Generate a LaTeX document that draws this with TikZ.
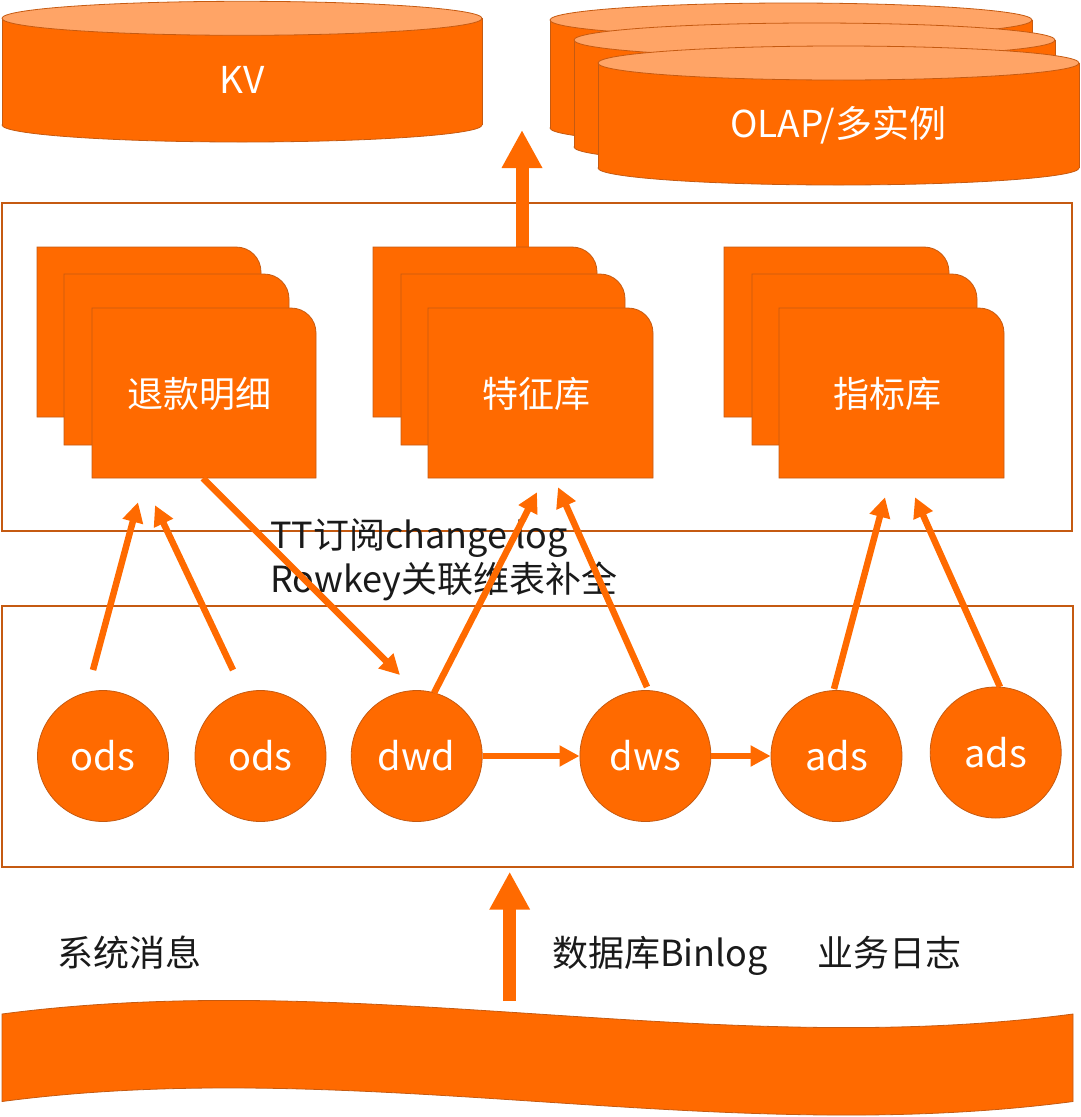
\documentclass[tikz,border=0pt]{standalone}
\usepackage{fontspec}
\setmainfont{Noto Sans CJK SC}
\usetikzlibrary{arrows.meta}
\definecolor{org}{HTML}{FF6A00}
\definecolor{dorg}{HTML}{C55A11}
\definecolor{lorg}{HTML}{FFA466}
\definecolor{ink}{HTML}{1A1A1A}
\newcommand{\mycyl}[4]{%
  \filldraw[fill=org, draw=dorg, line width=0.8pt] (#1,#4) ellipse [x radius=#2, y radius=17];
  \fill[org] (#1-#2,#3) rectangle (#1+#2,#4);
  \draw[dorg, line width=0.8pt] (#1-#2,#3) -- (#1-#2,#4) (#1+#2,#3) -- (#1+#2,#4);
  \filldraw[fill=lorg, draw=dorg, line width=0.8pt] (#1,#3) ellipse [x radius=#2, y radius=17];}
\newcommand{\mydoc}[4]{%
  \filldraw[docshape] (#1,#4) -- (#1,#2) -- (#3-25,#2) .. controls (#3-11,#2) and (#3,#2+11) .. (#3,#2+25) -- (#3,#4) -- cycle;}
\begin{document}
\begin{tikzpicture}[x=1pt,y=-1pt,
  frame/.style={draw=dorg, line width=2.5pt},
  docshape/.style={fill=org, draw=dorg, line width=0.8pt},
  doclabel/.style={text=white, font=\fontsize{36}{40}\selectfont, minimum width=224pt, minimum height=170pt, inner sep=0pt},
  cyllabel/.style={text=white, font=\fontsize{37}{40}\selectfont, inner sep=0pt},
  layer/.style={circle, fill=org, draw=dorg, line width=0.8pt, minimum size=131pt, inner sep=0pt, text=white, font=\fontsize{38}{40}\selectfont},
  flow/.style={draw=org, line width=6.5pt, -{Triangle[length=20pt,width=20pt]}},
  bigflow/.style={draw=org, line width=13pt, -{Triangle[length=38pt,width=38pt]}},
  note/.style={text=ink, font=\fontsize{36}{44}\selectfont, inner sep=0pt, anchor=base west}]
\useasboundingbox (0,0) rectangle (1080,1117);

% storage cylinders
\mycyl{242}{240}{18.3}{125}
\node[cyllabel] (kv) at (242,80) {KV};
\mycyl{791}{241}{20}{128}
\mycyl{814.5}{240.5}{40}{147}
\mycyl{838.5}{240.5}{63}{168}
\node[cyllabel] (olap) at (838,125) {OLAP/多实例};

% frames
\node[frame, minimum width=1070pt, minimum height=328pt, inner sep=0pt] (topbox) at (537,367) {};
\node[frame, minimum width=1071pt, minimum height=261pt, inner sep=0pt] (layerbox) at (537.5,736.5) {};

% up arrow to OLAP
\coordinate (olapin) at (522,130);
\draw[bigflow] (522,262) -- (olapin);

% document stacks
\mydoc{37}{247}{261}{417}
\mydoc{64}{274}{289}{445}
\mydoc{92}{308}{316}{478}
\node[doclabel] (fd1) at (204,393) {};
\node[text=white, font=\fontsize{36}{40}\selectfont, inner sep=0pt] (fd1t) at (199.5,394) {退款明细};
\mydoc{373}{247}{597}{417}
\mydoc{401}{274}{625}{445}
\mydoc{428}{308}{653}{478}
\node[doclabel] (fd2) at (540.5,393) {};
\node[text=white, font=\fontsize{36}{40}\selectfont, inner sep=0pt] (fd2t) at (536,394) {特征库};
\mydoc{724}{247}{949}{417}
\mydoc{752}{274}{977}{445}
\mydoc{779}{308}{1004}{478}
\node[doclabel] (fd3) at (891.5,393) {};
\node[text=white, font=\fontsize{36}{40}\selectfont, inner sep=0pt] (fd3t) at (887.5,394) {指标库};

% layer circles
\node[layer] (ods1) at (103,756) {ods};
\node[layer] (ods2) at (260.5,756) {ods};
\node[layer] (dwd) at (416.7,756) {dwd};
\node[layer] (dws) at (645.4,756) {dws};
\node[layer] (ads1) at (836.5,756) {ads};
\node[layer] (ads2) at (995.7,752.5) {ads};

% note text
\node[note] (note1) at (270,548) {TT订阅change log};
\node[note] (note2) at (270,592) {Rowkey关联维表补全};

% flows
\draw[flow] ([shift={(-10,-86)}]ods1.center) -- ([shift={(-66,24)}]fd1.south);
\draw[flow] ([shift={(-27.5,-86)}]ods2.center) -- ([shift={(-49,27)}]fd1.south);
\draw[flow] ([shift={(-1,0)}]fd1.south) -- ([shift={(-16.7,-81)}]dwd.center);
\draw[flow] ([shift={(17.3,-63)}]dwd.center) -- ([shift={(-3.5,14)}]fd2.south);
\draw[flow] ([shift={(1.6,-69)}]dws.center) -- ([shift={(17.5,9)}]fd2.south);
\draw[flow] ([shift={(-2.5,-67)}]ads1.center) -- ([shift={(-6.5,19)}]fd3.south);
\draw[flow] ([shift={(4.3,-65.5)}]ads2.center) -- ([shift={(23.5,19)}]fd3.south);
\draw[flow] (dwd.east) -- (dws.west);
\draw[flow] (dws.east) -- (ads1.west);

% source banner
\filldraw[fill=org, draw=dorg, line width=0.8pt] (2,1014) .. controls (359,967) and (716,1061) .. (1073,1014) -- (1073,1101.5) .. controls (716,1148.5) and (359,1054.5) .. (2,1101.5) -- cycle;
\coordinate (src) at (509.7,1001);
\coordinate (layerin) at (509.7,871.7);
\draw[bigflow] (src) -- (layerin);

% source labels
\node[note] (s1) at (57,966) {系统消息};
\node[note] (s2) at (552,966) {数据库Binlog};
\node[note] (s3) at (817,966) {业务日志};
\end{tikzpicture}
\end{document}
